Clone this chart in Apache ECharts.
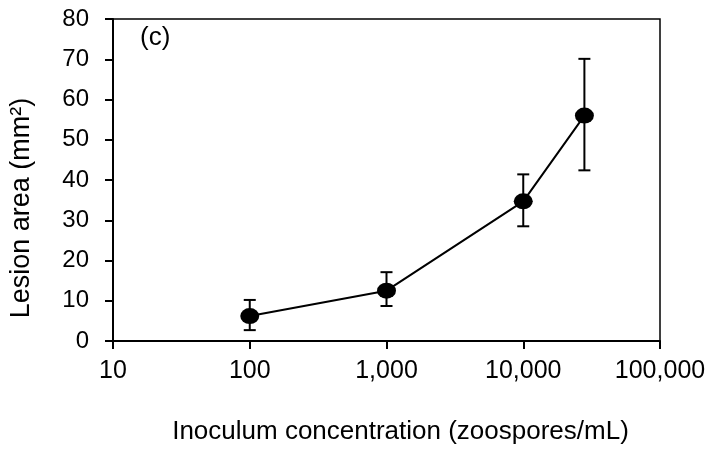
<!DOCTYPE html>
<html>
<head>
<meta charset="utf-8">
<script src="https://cdn.jsdelivr.net/npm/echarts@6/dist/echarts.min.js"></script>
<style>html,body{margin:0;padding:0;background:#fff;}#c{width:712px;height:454px;}</style>
</head>
<body>
<div id="c"></div>
<script>
var concentrations = [100, 1000, 10000, 28000];
var lesionArea = [6.2, 12.5, 34.7, 56.0];
var errLow = [2.7, 8.7, 28.5, 42.4];
var errHigh = [10.2, 17.1, 41.4, 70.1];
var xTicks = [10, 100, 1000, 10000, 100000];
var yMin = 0, yMax = 80, yStep = 10;
var panelLabel = '(c)';

var FONT = '"Liberation Sans", Arial, sans-serif';
var chart = echarts.init(document.getElementById('c'));

function fmt(v) {
  return String(Math.round(v)).replace(/\B(?=(\d{3})+(?!\d))/g, ',');
}

var errData = concentrations.map(function (c, i) { return [c, errLow[i], errHigh[i]]; });
var lineData = concentrations.map(function (c, i) { return [c, lesionArea[i]]; });

chart.setOption({
  animation: false,
  backgroundColor: '#fff',
  grid: {
    left: 113, right: 52, top: 19, bottom: 113,
    show: true, borderColor: '#000', borderWidth: 1.5, backgroundColor: 'transparent'
  },
  xAxis: {
    type: 'log', logBase: 10, min: xTicks[0], max: xTicks[xTicks.length - 1],
    name: 'Inoculum concentration (zoospores/mL)',
    nameLocation: 'middle', nameGap: 78,
    nameTextStyle: { fontFamily: FONT, fontSize: 26, color: '#000', padding: [0, 0, 0, 28] },
    axisLine: { lineStyle: { color: '#000', width: 2 } },
    axisTick: { show: true, length: 8, lineStyle: { color: '#000', width: 2 } },
    minorTick: { show: false },
    splitLine: { show: false },
    axisLabel: { fontFamily: FONT, fontSize: 25, color: '#000', margin: 18, formatter: fmt }
  },
  yAxis: {
    type: 'value', min: yMin, max: yMax, interval: yStep,
    name: 'Lesion area (mm²)',
    nameLocation: 'middle', nameGap: 78,
    nameTextStyle: { fontFamily: FONT, fontSize: 27, color: '#000', padding: [0, 56, 0, 0] },
    axisLine: { show: true, lineStyle: { color: '#000', width: 2 } },
    axisTick: { show: true, length: 8, lineStyle: { color: '#000', width: 2 } },
    splitLine: { show: false },
    axisLabel: { fontFamily: FONT, fontSize: 24, color: '#000', margin: 24 }
  },
  graphic: [{
    type: 'text', left: 140, top: 25,
    style: { text: panelLabel, fontFamily: FONT, fontSize: 26, fill: '#000' }
  }],
  series: [
    {
      type: 'custom',
      data: errData,
      z: 1,
      renderItem: function (params, api) {
        var x = api.value(0);
        var lo = api.coord([x, api.value(1)]);
        var hi = api.coord([x, api.value(2)]);
        var w = 6;
        var st = { stroke: '#000', lineWidth: 2 };
        return {
          type: 'group',
          children: [
            { type: 'line', shape: { x1: lo[0], y1: lo[1], x2: hi[0], y2: hi[1] }, style: st },
            { type: 'line', shape: { x1: lo[0] - w, y1: lo[1], x2: lo[0] + w, y2: lo[1] }, style: st },
            { type: 'line', shape: { x1: hi[0] - w, y1: hi[1], x2: hi[0] + w, y2: hi[1] }, style: st }
          ]
        };
      }
    },
    {
      type: 'line',
      data: lineData,
      z: 2,
      symbol: 'circle',
      symbolSize: [19, 16],
      lineStyle: { color: '#000', width: 2 },
      itemStyle: { color: '#000' }
    }
  ]
});
</script>
</body>
</html>
